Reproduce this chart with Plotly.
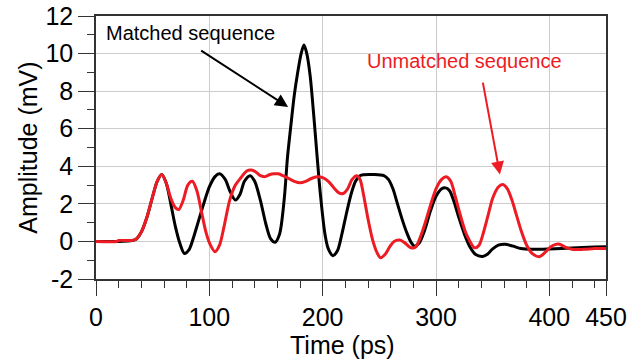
import plotly.graph_objects as go

# ---- data ----
matched_t = [0, 20, 30, 35, 40, 45, 50, 54, 58, 62, 66, 70, 74, 78, 82, 86, 90, 95, 100, 105,
             109, 114, 118, 123, 127, 131, 136, 140, 145, 150, 154, 158, 162, 166, 169, 172,
             175, 178, 181, 183.5, 186, 189, 192, 195, 198, 202, 205, 209, 213, 217, 221, 225,
             229, 233, 236, 245, 254, 258, 262, 266, 270, 274, 278, 281, 285, 290, 295, 300,
             305, 308.5, 312, 316, 320, 325, 330, 335, 341, 345, 350, 355, 361, 368, 375, 385,
             400, 420, 440, 450]
matched_v = [0, 0, 0.03, 0.1, 0.5, 1.3, 2.4, 3.2, 3.56, 3.1, 2.0, 0.8, -0.1, -0.64, -0.45, 0.2,
             1.0, 2.0, 2.9, 3.45, 3.6, 3.3, 2.7, 2.2, 2.5, 3.2, 3.5, 3.2, 2.2, 0.9, 0.15, -0.04,
             0.4, 2.2, 4.5, 6.2, 7.8, 9.0, 10.0, 10.45, 10.0, 8.8, 6.8, 4.6, 2.5, 0.4, -0.4,
             -0.76, -0.5, 0.4, 1.5, 2.5, 3.2, 3.5, 3.55, 3.56, 3.5, 3.3, 2.8, 2.0, 1.2, 0.5,
             -0.05, -0.25, -0.1, 0.6, 1.6, 2.4, 2.8, 2.85, 2.7, 2.1, 1.3, 0.4, -0.3, -0.7, -0.8,
             -0.7, -0.4, -0.2, -0.15, -0.25, -0.38, -0.42, -0.4, -0.35, -0.3, -0.28]

unmatched_t = [0, 18, 20, 30, 35, 40, 45, 50, 54, 58, 62, 66, 70, 73, 77, 81, 85, 89, 93, 97,
               101, 105, 109, 113, 118, 123, 128, 133, 137, 141, 145, 149, 153, 157, 161, 165,
               170, 175, 180, 185, 190, 195, 200, 205, 210, 214, 218, 222, 226, 230, 233, 236,
               240, 244, 248, 251, 255, 259, 263, 268, 272, 278, 282, 286, 290, 295, 300, 305,
               309, 313, 317, 321, 326, 330, 334, 338, 342, 346, 350, 355, 359, 363, 367, 371,
               375, 380, 385, 391, 396, 401, 405, 409, 414, 420, 430, 440, 450]
unmatched_v = [0, 0, 0.05, 0.05, 0.1, 0.5, 1.3, 2.4, 3.2, 3.56, 3.1, 2.3, 1.8, 1.7, 2.2, 3.0,
               3.2, 2.7, 1.6, 0.5, -0.2, -0.55, -0.2, 0.8, 2.2, 3.0, 3.4, 3.75, 3.8, 3.7, 3.5,
               3.45, 3.55, 3.6, 3.6, 3.5, 3.35, 3.2, 3.12, 3.2, 3.35, 3.44, 3.4, 3.2, 2.85, 2.6,
               2.55, 2.8, 3.3, 3.5, 3.3, 2.5, 1.2, 0.1, -0.6, -0.87, -0.7, -0.3, 0.0, 0.07,
               -0.05, -0.34, -0.3, 0.2, 0.9, 1.9, 2.8, 3.3, 3.44, 3.2, 2.4, 1.5, 0.5, 0.0, -0.34,
               -0.2, 0.5, 1.4, 2.3, 2.9, 3.03, 2.8, 2.2, 1.4, 0.6, -0.2, -0.65, -0.81, -0.6,
               -0.3, -0.17, -0.15, -0.3, -0.42, -0.42, -0.38, -0.37]

x_tickvals = [0, 100, 200, 300, 400, 450]
y_tickvals = [-2, 0, 2, 4, 6, 8, 10, 12]

BLACK = "#000000"
RED = "#ED1C24"
FONT = "Liberation Sans, Arial, sans-serif"

fig = go.Figure()
fig.add_trace(go.Scatter(x=matched_t, y=matched_v, mode="lines", name="Matched sequence",
                         line=dict(color=BLACK, width=3, shape="spline", smoothing=0.8)))
fig.add_trace(go.Scatter(x=unmatched_t, y=unmatched_v, mode="lines", name="Unmatched sequence",
                         line=dict(color=RED, width=3, shape="spline", smoothing=0.8)))

fig.update_layout(
    width=636, height=363,
    margin=dict(l=96, r=30, t=16, b=84, autoexpand=False),
    paper_bgcolor="white", plot_bgcolor="white",
    showlegend=False,
    font=dict(family=FONT, color="#000000", size=24),
)
fig.update_xaxes(
    range=[0, 450], tickvals=x_tickvals, ticktext=[str(v) for v in x_tickvals],
    showgrid=True, gridcolor="#cccccc", gridwidth=1,
    ticks="outside", ticklen=15, tickwidth=1, tickcolor="#333333",
    minor=dict(dtick=20, tick0=0, ticks="outside", ticklen=7, tickcolor="#333333", showgrid=False),
    showline=True, linecolor="#333333", linewidth=1.5, mirror=True,
    zeroline=False, tickfont=dict(size=25), automargin=False, ticklabeloverflow="allow",
)
fig.update_yaxes(
    range=[-2, 12], tickvals=y_tickvals, ticktext=[str(v) for v in y_tickvals],
    showgrid=True, gridcolor="#cccccc", gridwidth=1,
    ticks="outside", ticklen=16, tickwidth=1, tickcolor="#333333",
    minor=dict(dtick=1, tick0=0, ticks="outside", ticklen=7, tickcolor="#333333", showgrid=False),
    showline=True, linecolor="#333333", linewidth=1.5, mirror=True,
    zeroline=False, tickfont=dict(size=25), automargin=False, ticklabeloverflow="allow",
)

# axis titles
fig.add_annotation(text="Time (ps)", xref="paper", yref="paper", x=0.484, y=-0.25,
                   yanchor="middle", showarrow=False, font=dict(size=25))
fig.add_annotation(text="Amplitude (mV)", xref="paper", yref="paper", x=-0.135, y=0.5,
                   textangle=-90, xanchor="center", showarrow=False, font=dict(size=25))

# labels
fig.add_annotation(text="Matched sequence", x=83.6, y=11.1, xref="x", yref="y",
                   showarrow=False, font=dict(size=20, color=BLACK))
fig.add_annotation(text="Unmatched sequence", x=325.5, y=9.6, xref="x", yref="y",
                   showarrow=False, font=dict(size=20, color=RED))

# arrows
fig.add_annotation(x=169.5, y=7.16, ax=91.5, ay=10.21, xref="x", yref="y", axref="x", ayref="y",
                   text="", showarrow=True, arrowhead=2, arrowsize=1.3, arrowwidth=2,
                   arrowcolor=BLACK)
fig.add_annotation(x=356.4, y=3.56, ax=341.1, ay=8.53, xref="x", yref="y", axref="x", ayref="y",
                   text="", showarrow=True, arrowhead=2, arrowsize=1.3, arrowwidth=2,
                   arrowcolor=RED)

# remove the default page margin so the figure sits at the window's top-left corner
fig.write_html("out.html",
               config={"displayModeBar": False},
               post_script="document.body.style.margin='0';document.body.style.overflow='hidden';")
